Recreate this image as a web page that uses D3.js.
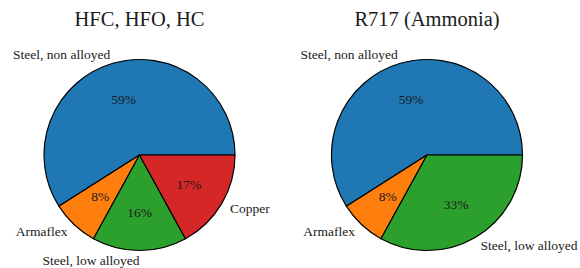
<!DOCTYPE html>
<html>
<head>
<meta charset="utf-8">
<script src="https://cdn.jsdelivr.net/npm/d3@7"></script>
<style>
  body { margin: 0; background: white; }
  svg { display: block; font-family: 'Liberation Serif', 'Times New Roman', serif; }
</style>
</head>
<body>
<script>
const width = 580;
const height = 268;

const titles = ['HFC, HFO, HC', 'R717 (Ammonia)'];
const categoriesA = ['Steel, non alloyed', 'Armaflex', 'Steel, low alloyed', 'Copper'];
const valuesA = [59, 8, 16, 17];
const categoriesB = ['Steel, non alloyed', 'Armaflex', 'Steel, low alloyed'];
const valuesB = [59, 8, 33];

const colors = d3.scaleOrdinal()
  .domain(['Steel, non alloyed', 'Armaflex', 'Steel, low alloyed', 'Copper'])
  .range(['#1f77b4', '#ff7f0e', '#2ca02c', '#d62728']);

const svg = d3.select('body').append('svg')
  .attr('width', width)
  .attr('height', height)
  .attr('viewBox', [0, 0, width, height]);

const r = 95.5;

// matplotlib style: start at 3 o'clock, go counterclockwise
const pie = d3.pie()
  .sort(null)
  .value(d => d.value)
  .startAngle(Math.PI / 2)
  .endAngle(Math.PI / 2 - 2 * Math.PI);

const arc = d3.arc().innerRadius(0).outerRadius(r);
const labelArc = d3.arc().innerRadius(r * 1.1).outerRadius(r * 1.1);
const pctArc = d3.arc().innerRadius(r * 0.6).outerRadius(r * 0.6);

function drawPie(cx, cy, title, cats, vals) {
  const data = cats.map((c, i) => ({ name: c, value: vals[i] }));
  const arcs = pie(data);
  const total = d3.sum(vals);

  const g = svg.append('g')
    .attr('transform', `translate(${cx},${cy})`);

  g.selectAll('path')
    .data(arcs)
    .join('path')
    .attr('d', arc)
    .attr('fill', d => colors(d.data.name))
    .attr('stroke', 'black')
    .attr('stroke-width', 1.2)
    .attr('stroke-linejoin', 'round');

  g.selectAll('text.label')
    .data(arcs)
    .join('text')
    .attr('class', 'label')
    .attr('x', d => labelArc.centroid(d)[0])
    .attr('y', d => labelArc.centroid(d)[1])
    .attr('text-anchor', d => labelArc.centroid(d)[0] < 0 ? 'end' : 'start')
    .attr('dominant-baseline', 'central')
    .attr('font-size', 13.5)
    .attr('fill', '#1a1a1a')
    .text(d => d.data.name);

  g.selectAll('text.pct')
    .data(arcs)
    .join('text')
    .attr('class', 'pct')
    .attr('x', d => pctArc.centroid(d)[0])
    .attr('y', d => pctArc.centroid(d)[1])
    .attr('text-anchor', 'middle')
    .attr('dominant-baseline', 'central')
    .attr('font-size', 13.5)
    .attr('fill', '#1a1a1a')
    .text(d => Math.round(d.data.value / total * 100) + '%');

  svg.append('text')
    .attr('x', cx)
    .attr('y', 26)
    .attr('text-anchor', 'middle')
    .attr('font-size', 20.5)
    .attr('fill', '#1a1a1a')
    .text(title);
}

drawPie(139.5, 155, titles[0], categoriesA, valuesA);
drawPie(427, 155, titles[1], categoriesB, valuesB);
</script>
</body>
</html>
